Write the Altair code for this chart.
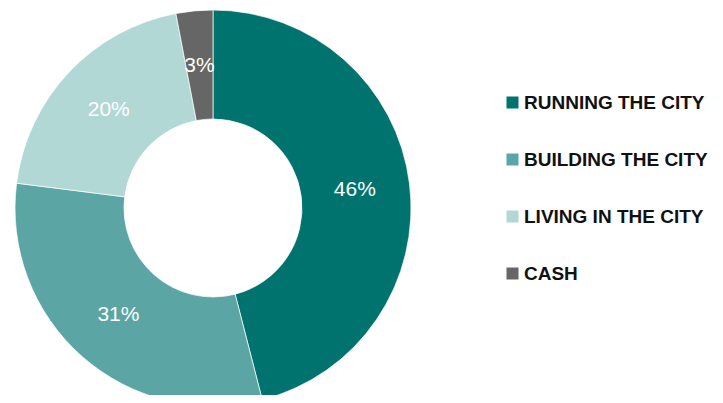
import altair as alt
import pandas as pd

categories = ["RUNNING THE CITY", "BUILDING THE CITY", "LIVING IN THE CITY", "CASH"]
values = [46, 31, 20, 3]
labels = ["46%", "31%", "20%", "3%"]
colors = ["#00736e", "#5ba6a4", "#b2d8d6", "#666666"]

df = pd.DataFrame({"cat": categories, "val": values, "label": labels, "order": list(range(len(categories)))})

cx, cy = 205, 200

base = alt.Chart(df).encode(
    theta=alt.Theta("val:Q", stack=True),
    order=alt.Order("order:Q"),
)

arcs = base.mark_arc(outerRadius=198, innerRadius=89, stroke="white", strokeWidth=0.7).encode(
    x=alt.value(cx), y=alt.value(cy),
    color=alt.Color("cat:N", scale=alt.Scale(domain=categories, range=colors), sort=categories,
                    legend=alt.Legend(title=None, orient="none", legendX=495, legendY=85,
                                      symbolType="square", symbolSize=144, symbolStrokeWidth=0,
                                      labelFont="Liberation Sans", labelFontWeight="bold",
                                      labelFontSize=19, labelColor="#111111", rowPadding=37,
                                      labelOffset=2, labelLimit=400, padding=0)),
)

text = base.mark_text(radius=143, font="Liberation Sans", fontSize=21, color="white").encode(
    x=alt.value(cx), y=alt.value(cy),
    text="label:N",
)

chart = (arcs + text).properties(
    width=707, height=387, padding=0, autosize=alt.AutoSizeParams(type="none")
).configure_view(stroke=None)

chart.save("out.html", embed_options={"renderer": "svg", "actions": False})
